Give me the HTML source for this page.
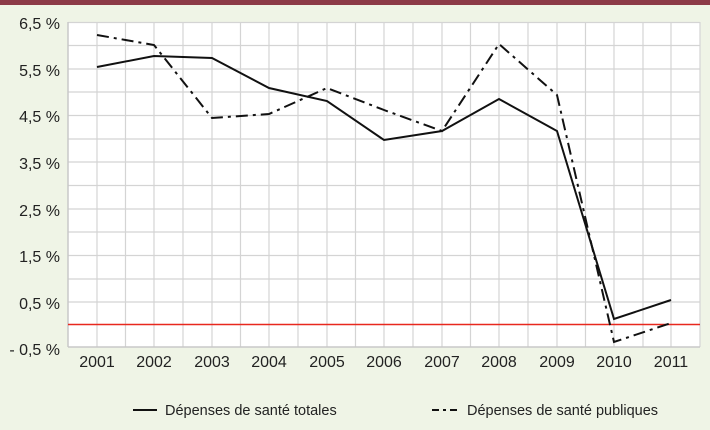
<!DOCTYPE html>
<html><head><meta charset="utf-8"><style>
body{margin:0;width:710px;height:430px;background:#eff4e6;overflow:hidden}
svg{display:block}
text{font-family:"Liberation Sans Narrow","Liberation Sans",sans-serif;fill:#222}
</style></head><body>
<svg width="710" height="430" viewBox="0 0 710 430">
<rect x="0" y="0" width="710" height="5" fill="#8c3a47"/>
<rect x="68" y="22" width="632" height="325" fill="#fff"/>
<g stroke="#d4d4d4" stroke-width="1.2">
<line x1="68" y1="45.5" x2="700" y2="45.5"/><line x1="68" y1="69" x2="700" y2="69"/>
<line x1="68" y1="92" x2="700" y2="92"/><line x1="68" y1="115.5" x2="700" y2="115.5"/>
<line x1="68" y1="139" x2="700" y2="139"/><line x1="68" y1="162" x2="700" y2="162"/>
<line x1="68" y1="185.5" x2="700" y2="185.5"/><line x1="68" y1="209" x2="700" y2="209"/>
<line x1="68" y1="232" x2="700" y2="232"/><line x1="68" y1="255.5" x2="700" y2="255.5"/>
<line x1="68" y1="279" x2="700" y2="279"/><line x1="68" y1="302" x2="700" y2="302"/>
<line x1="68" y1="22.5" x2="700" y2="22.5"/>
<line x1="97" y1="22" x2="97" y2="347"/><line x1="125.5" y1="22" x2="125.5" y2="347"/>
<line x1="154" y1="22" x2="154" y2="347"/><line x1="183" y1="22" x2="183" y2="347"/>
<line x1="212" y1="22" x2="212" y2="347"/><line x1="240.5" y1="22" x2="240.5" y2="347"/>
<line x1="269" y1="22" x2="269" y2="347"/><line x1="298" y1="22" x2="298" y2="347"/>
<line x1="327" y1="22" x2="327" y2="347"/><line x1="355.5" y1="22" x2="355.5" y2="347"/>
<line x1="384" y1="22" x2="384" y2="347"/><line x1="413" y1="22" x2="413" y2="347"/>
<line x1="442" y1="22" x2="442" y2="347"/><line x1="470.5" y1="22" x2="470.5" y2="347"/>
<line x1="499" y1="22" x2="499" y2="347"/><line x1="528" y1="22" x2="528" y2="347"/>
<line x1="557" y1="22" x2="557" y2="347"/><line x1="585.5" y1="22" x2="585.5" y2="347"/>
<line x1="614" y1="22" x2="614" y2="347"/><line x1="643" y1="22" x2="643" y2="347"/>
<line x1="671" y1="22" x2="671" y2="347"/><line x1="700" y1="22" x2="700" y2="347"/>
</g>
<line x1="68" y1="22" x2="68" y2="347" stroke="#c8c8c8" stroke-width="1.5"/>
<line x1="68" y1="347" x2="700" y2="347" stroke="#c8c8c8" stroke-width="1.5"/>
<line x1="68" y1="324.5" x2="700" y2="324.5" stroke="#e8281e" stroke-width="1.4"/>
<polyline fill="none" stroke="#111" stroke-width="2" points="97,67 154,56 212,58 269,88 327,101 384,140 442,131 499,99 557,131 614,319 671,300"/>
<polyline fill="none" stroke="#111" stroke-width="2" stroke-dasharray="12,5,3,5" points="97,35 154,45 212,118 269,114 327,88 384,110 442,131 499,44 557,95 614,342 671,323"/>
<g font-size="16" text-anchor="end">
<text x="60" y="29">6,5 %</text><text x="60" y="76">5,5 %</text><text x="60" y="122">4,5 %</text>
<text x="60" y="169">3,5 %</text><text x="60" y="216">2,5 %</text><text x="60" y="262">1,5 %</text>
<text x="60" y="309">0,5 %</text><text x="60" y="355">- 0,5 %</text>
</g>
<g font-size="16" text-anchor="middle">
<text x="97" y="367">2001</text><text x="154" y="367">2002</text><text x="212" y="367">2003</text>
<text x="269" y="367">2004</text><text x="327" y="367">2005</text><text x="384" y="367">2006</text>
<text x="442" y="367">2007</text><text x="499" y="367">2008</text><text x="557" y="367">2009</text>
<text x="614" y="367">2010</text><text x="671" y="367">2011</text>
</g>
<line x1="133" y1="410" x2="157" y2="410" stroke="#111" stroke-width="2"/>
<text x="165" y="415" font-size="14.5">Dépenses de santé totales</text>
<line x1="432" y1="410" x2="458" y2="410" stroke="#111" stroke-width="2" stroke-dasharray="7,4,3,4"/>
<text x="467" y="415" font-size="14.5">Dépenses de santé publiques</text>
</svg>
</body></html>
